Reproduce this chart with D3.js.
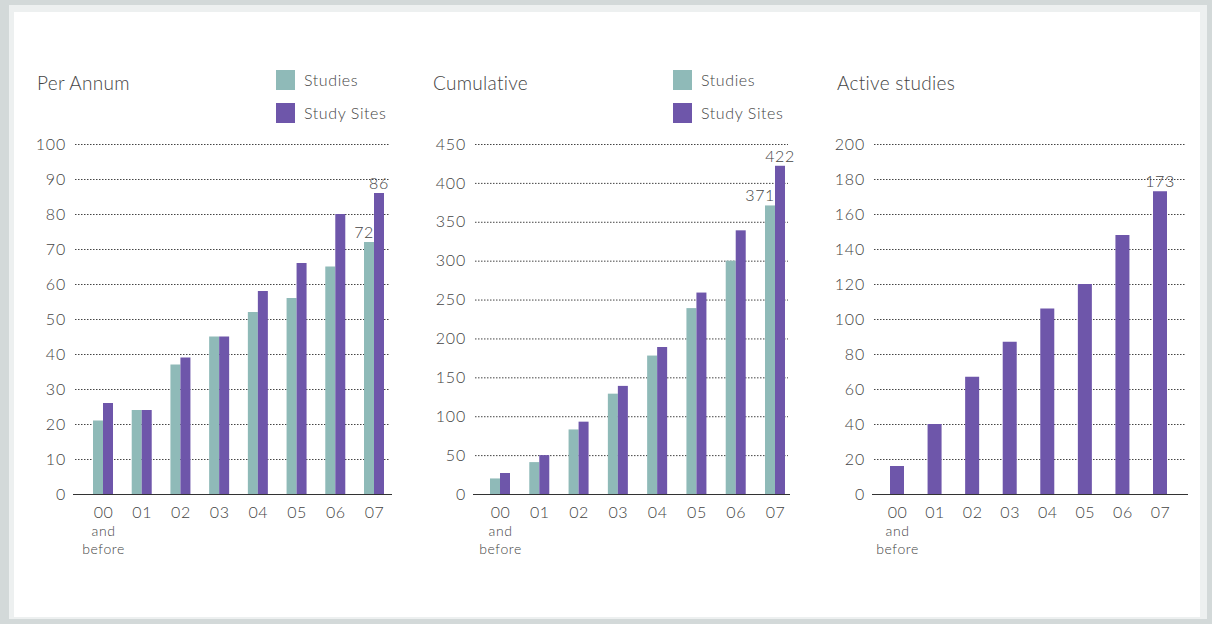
<!DOCTYPE html>
<html>
<head>
<meta charset="utf-8">
<script src="https://cdn.jsdelivr.net/npm/d3@7"></script>
<style>
  body { margin: 0; background: #d3d9d9; }
  svg { display: block; }
  text { font-family: "Lato", "Open Sans", sans-serif; font-weight: 300; fill: #444; }
</style>
</head>
<body>
<div id="chart"></div>
<script>
// data
var years = ["00", "01", "02", "03", "04", "05", "06", "07"];
var perAnnumStudies = [21, 24, 37, 45, 52, 56, 65, 72];
var perAnnumSites   = [26, 24, 39, 45, 58, 66, 80, 86];
var cumulStudies = [20, 41, 83, 129, 178, 239, 300, 371];
var cumulSites   = [27, 50, 93, 139, 189, 259, 339, 422];
var activeStudies = [16, 40, 67, 87, 106, 120, 148, 173];
var perAnnumTicks = [0, 10, 20, 30, 40, 50, 60, 70, 80, 90, 100];
var cumulTicks = [0, 50, 100, 150, 200, 250, 300, 350, 400, 450];
var activeTicks = [0, 20, 40, 60, 80, 100, 120, 140, 160, 180, 200];
var legendNames = ["Studies", "Study Sites"];

var W = 1212, H = 624;
var teal = "#8fbab8", purple = "#6e56aa";

var svg = d3.select("#chart").append("svg")
  .attr("width", W).attr("height", H);

// frame
svg.append("rect").attr("x", 0).attr("y", 0).attr("width", W).attr("height", H).attr("fill", "#d3d9d9");
svg.append("rect").attr("x", 9).attr("y", 5).attr("width", 1198).attr("height", 614).attr("fill", "#edf0f0");
svg.append("rect").attr("x", 14).attr("y", 12).attr("width", 1186).attr("height", 605).attr("fill", "#fff");

function drawPanel(opt) {
  var g = svg.append("g");
  var y = d3.scaleLinear().domain([0, opt.max]).range([494, 144]);
  // centre of each year group
  var x = d3.scalePoint().domain(years).range([opt.c0, opt.c1]);

  // title
  g.append("text").attr("x", opt.titleX).attr("y", 90)
    .style("font-size", "19px").style("letter-spacing", "0.3px").text(opt.title);

  // legend
  if (opt.legend) {
    legendNames.forEach(function(n, i) {
      g.append("rect").attr("x", opt.legendX).attr("y", 70 + i * 33)
        .attr("width", 19).attr("height", 20).attr("fill", i == 0 ? teal : purple);
      g.append("text").attr("x", opt.legendX + 28).attr("y", 86 + i * 33)
        .style("font-size", "16px").style("letter-spacing", "0.6px").text(n);
    });
  }

  // dotted grid
  g.append("g").selectAll("line").data(opt.ticks.slice(1)).enter().append("line")
    .attr("x1", opt.x0 + 2).attr("x2", opt.x1 - 2)
    .attr("y1", function(d) { return y(d) + 0.5; })
    .attr("y2", function(d) { return y(d) + 0.5; })
    .attr("stroke", "#444").attr("stroke-width", 1).attr("stroke-dasharray", "1.5,1.5");

  // y labels
  var yAxis = d3.axisLeft(y).tickValues(opt.ticks).tickSize(0).tickPadding(0);
  var ya = g.append("g").attr("transform", "translate(" + (opt.x0 - 7) + ",0)").call(yAxis);
  ya.select(".domain").remove();
  ya.selectAll("text").style("font-size", "16px").style("letter-spacing", "0.8px")
    .style("font-family", null).attr("fill", "#444");

  // bars
  var bw = opt.barW;
  opt.series.forEach(function(s, si) {
    var n = opt.series.length;
    g.append("g").selectAll("rect").data(s.values).enter().append("rect")
      .attr("x", function(d, i) { return x(years[i]) - n * bw / 2 + si * bw; })
      .attr("width", bw)
      .attr("y", function(d) { return y(d); })
      .attr("height", function(d) { return y(0) - y(d); })
      .attr("fill", s.color);
  });

  // value labels on the last year
  opt.series.forEach(function(s, si) {
    var n = opt.series.length;
    var last = s.values.length - 1;
    var left = x(years[last]) - n * bw / 2 + si * bw;
    var anchor = (n == 2 && si == 0) ? "end" : "middle";
    g.append("text")
      .attr("x", anchor == "end" ? left + bw : left + bw / 2)
      .attr("y", y(s.values[last]) - 4)
      .attr("text-anchor", anchor)
      .style("font-size", "16px").style("letter-spacing", "0.6px").attr("fill", "#333")
      .text(s.values[last]);
  });

  // baseline
  g.append("line").attr("x1", opt.x0).attr("x2", opt.x1)
    .attr("y1", y(0) + 0.5).attr("y2", y(0) + 0.5)
    .attr("stroke", "#333").attr("stroke-width", 1.2);

  // x labels
  var xa = g.append("g").attr("transform", "translate(0," + y(0) + ")")
    .call(d3.axisBottom(x).tickSize(0).tickPadding(0));
  xa.select(".domain").remove();
  xa.selectAll("text").remove();
  xa.selectAll(".tick").each(function(d, i) {
    var t = d3.select(this);
    var lines = i == 0 ? [d, "and", "before"] : [d];
    lines.forEach(function(l, k) {
      t.append("text").attr("y", 24 + k * 18).attr("text-anchor", "middle")
        .style("font-size", k == 0 ? "16px" : "14px").style("letter-spacing", "0.6px")
        .attr("fill", "#555").text(l);
    });
  });
}

drawPanel({
  title: "Per Annum", titleX: 37, x0: 73, x1: 392, c0: 103, c1: 374, barW: 10, max: 100,
  ticks: perAnnumTicks, legend: true, legendX: 276,
  series: [{values: perAnnumStudies, color: teal}, {values: perAnnumSites, color: purple}]
});
drawPanel({
  title: "Cumulative", titleX: 433, x0: 473, x1: 790, c0: 500, c1: 775, barW: 10, max: 450,
  ticks: cumulTicks, legend: true, legendX: 673,
  series: [{values: cumulStudies, color: teal}, {values: cumulSites, color: purple}]
});
drawPanel({
  title: "Active studies", titleX: 837, x0: 872, x1: 1188, c0: 897, c1: 1160, barW: 14, max: 200,
  ticks: activeTicks, legend: false,
  series: [{values: activeStudies, color: purple}]
});
</script>
</body>
</html>
